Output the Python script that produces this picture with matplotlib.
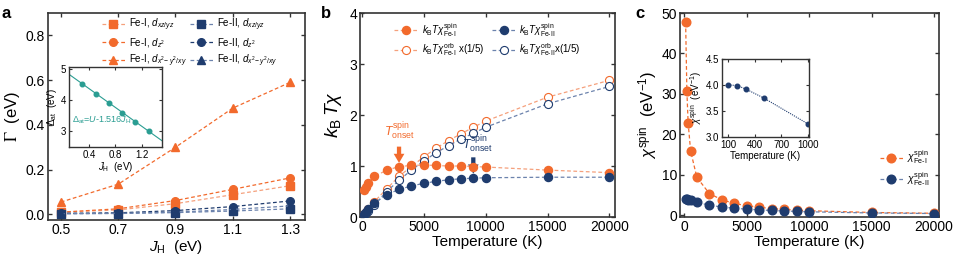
import numpy as np
import matplotlib
matplotlib.use("Agg")
import matplotlib.pyplot as plt

plt.rcParams['font.family'] = ['Liberation Sans', 'DejaVu Sans']
plt.rcParams['mathtext.fontset'] = 'custom'
plt.rcParams['mathtext.rm'] = 'Liberation Sans'
plt.rcParams['mathtext.it'] = 'Liberation Sans:italic'
plt.rcParams['mathtext.bf'] = 'Liberation Sans:bold'

ORANGE = '#f26a2c'
ORANGE_L = '#f5a07c'
NAVY = '#1f3c6e'
NAVY_L = '#6c83ad'
TEAL = '#2a9d92'
SPINE = '#333333'

# ---------- panel a data ----------
jh = [0.5, 0.7, 0.9, 1.1, 1.3]
fe1_xz = [0.010, 0.020, 0.048, 0.088, 0.128]
fe1_z2 = [0.010, 0.025, 0.062, 0.112, 0.163]
fe1_x2 = [0.055, 0.135, 0.300, 0.475, 0.590]
fe2_xz = [0.003, 0.004, 0.008, 0.015, 0.025]
fe2_z2 = [0.005, 0.007, 0.017, 0.035, 0.060]
fe2_x2 = [0.003, 0.005, 0.010, 0.022, 0.038]

inset_jh = [0.3, 0.5, 0.7, 0.9, 1.1, 1.3]
inset_dat = [4.51, 4.20, 3.90, 3.60, 3.30, 3.00]
fit_jh = [0.1, 1.5]
fit_dat = [4.82, 2.70]

# ---------- panel b data ----------
temp_b = [200, 300, 500, 1000, 2000, 3000, 4000, 5000, 6000, 7000, 8000, 9000, 10000, 15000, 20000]
b_fe1_spin = [0.52, 0.58, 0.67, 0.80, 0.915, 0.99, 1.01, 1.02, 1.01, 1.00, 1.00, 0.99, 0.98, 0.92, 0.87]
b_fe2_spin = [0.05, 0.09, 0.15, 0.27, 0.44, 0.54, 0.61, 0.66, 0.70, 0.73, 0.75, 0.76, 0.77, 0.78, 0.78]
b_fe1_orb = [0.06, 0.09, 0.15, 0.30, 0.55, 0.80, 0.99, 1.18, 1.35, 1.50, 1.63, 1.76, 1.88, 2.35, 2.68]
b_fe2_orb = [0.04, 0.07, 0.12, 0.23, 0.50, 0.72, 0.92, 1.10, 1.26, 1.40, 1.53, 1.64, 1.76, 2.22, 2.56]

# ---------- panel c data ----------
temp_c = [100, 200, 300, 500, 1000, 2000, 3000, 4000, 5000, 6000, 7000, 8000, 9000, 10000, 15000, 20000]
c_fe1 = [47.7, 30.7, 22.9, 15.9, 9.4, 5.4, 3.85, 2.95, 2.4, 2.0, 1.7, 1.5, 1.3, 1.15, 0.72, 0.52]
c_fe2 = [4.00, 3.99, 3.92, 3.75, 3.25, 2.52, 2.08, 1.78, 1.53, 1.35, 1.21, 1.09, 0.98, 0.89, 0.60, 0.46]
inset_t = [100, 200, 300, 500, 1000]
inset_fe2 = [4.00, 3.99, 3.92, 3.75, 3.25]

fig = plt.figure(figsize=(9.54, 2.57), dpi=100)


def style_axes(ax, fs=10, lw=1.2, tl=3):
    for s in ax.spines.values():
        s.set_linewidth(lw)
        s.set_color(SPINE)
    ax.tick_params(direction='in', top=True, right=True, labelsize=fs,
                   length=tl, width=lw * 0.8, color=SPINE, pad=2)


# ================= panel a =================
axa = fig.add_axes([0.0503, 0.144, 0.2694, 0.8054])
style_axes(axa)
ms = 5.5
lw = 0.9
dash = (0, (3, 2))
axa.plot(jh, fe1_xz, ls=dash, color=ORANGE_L, lw=lw, marker='s', ms=ms, mfc=ORANGE, mec=ORANGE,
         label=r'Fe-I, $d_{xz/yz}$')
axa.plot(jh, fe1_z2, ls=dash, color=ORANGE, lw=lw, marker='o', ms=ms, mfc=ORANGE, mec=ORANGE,
         label=r'Fe-I, $d_{z^2}$')
axa.plot(jh, fe1_x2, ls=dash, color=ORANGE, lw=lw, marker='^', ms=ms, mfc=ORANGE, mec=ORANGE,
         label=r'Fe-I, $d_{x^2\!-y^2/xy}$')
axa.plot(jh, fe2_xz, ls=dash, color=NAVY_L, lw=lw, marker='s', ms=ms, mfc=NAVY, mec=NAVY,
         label=r'Fe-II, $d_{xz/yz}$')
axa.plot(jh, fe2_z2, ls=dash, color=NAVY, lw=lw, marker='o', ms=ms, mfc=NAVY, mec=NAVY,
         label=r'Fe-II, $d_{z^2}$')
axa.plot(jh, fe2_x2, ls=dash, color=NAVY_L, lw=lw, marker='^', ms=ms, mfc=NAVY, mec=NAVY,
         label=r'Fe-II, $d_{x^2\!-y^2/xy}$')
axa.set_xlim(0.455, 1.352)
axa.set_ylim(-0.025, 0.9)
axa.set_xticks([0.5, 0.7, 0.9, 1.1, 1.3])
axa.set_xticklabels(['0.5', '0.7', '0.9', '1.1', '1.3'])
axa.set_yticks([0.0, 0.2, 0.4, 0.6, 0.8])
axa.set_yticklabels(['0.0', '0.2', '0.4', '0.6', '0.8'])
axa.set_xlabel(r'$J_\mathrm{H}$  (eV)', fontsize=11, labelpad=1)
axa.set_ylabel(r'$\Gamma$  (eV)', fontsize=12, labelpad=3, math_fontfamily='stix')
axa.legend(ncol=2, loc='upper center', bbox_to_anchor=(0.55, 1.01), fontsize=7, frameon=False,
           handlelength=2.4, handletextpad=0.4, columnspacing=0.3, labelspacing=0.3,
           borderaxespad=0.2)
fig.text(0.002, 0.93, 'a', fontsize=12, fontweight='bold')

# inset a
axai = fig.add_axes([0.0723, 0.428, 0.0975, 0.311])
style_axes(axai, fs=7, lw=1.0, tl=2)
axai.plot(fit_jh, fit_dat, color=TEAL, lw=0.8)
axai.plot(inset_jh, inset_dat, ls='none', marker='o', ms=3.3, color=TEAL)
axai.set_xlim(0.1, 1.5)
axai.set_ylim(2.5, 5.05)
axai.set_xticks([0.4, 0.8, 1.2])
axai.set_yticks([3, 4, 5])
axai.set_xlabel(r'$J_\mathrm{H}$  (eV)', fontsize=7, labelpad=0)
axai.set_ylabel(r'$\Delta_\mathrm{at}$  (eV)', fontsize=7, labelpad=1)
axai.text(0.14, 3.28, r'$\Delta_\mathrm{at}$=$U$-1.516$J_\mathrm{H}$', color=TEAL, fontsize=6.5)

# ================= panel b =================
axb = fig.add_axes([0.3774, 0.1556, 0.2673, 0.7938])
style_axes(axb)
msb = 5.8
axb.plot(temp_b, b_fe1_orb, ls=dash, color=ORANGE_L, lw=0.9, marker='o', ms=msb, mfc='white',
         mec=ORANGE, mew=0.8, label=r'$k_\mathrm{B}T\chi^\mathrm{orb}_\mathrm{Fe\text{-}I}$ x(1/5)', zorder=3)
axb.plot(temp_b, b_fe2_orb, ls=dash, color=NAVY_L, lw=0.9, marker='o', ms=msb, mfc='white',
         mec=NAVY, mew=0.8, label=r'$k_\mathrm{B}T\chi^\mathrm{orb}_\mathrm{Fe\text{-}II}$x(1/5)', zorder=3)
axb.plot(temp_b, b_fe1_spin, ls=dash, color=ORANGE_L, lw=0.9, marker='o', ms=msb, mfc=ORANGE,
         mec=ORANGE, label=r'$k_\mathrm{B}T\chi^\mathrm{spin}_\mathrm{Fe\text{-}I}$', zorder=4)
axb.plot(temp_b, b_fe2_spin, ls=dash, color=NAVY_L, lw=0.9, marker='o', ms=msb, mfc=NAVY,
         mec=NAVY, label=r'$k_\mathrm{B}T\chi^\mathrm{spin}_\mathrm{Fe\text{-}II}$', zorder=4)
axb.set_xlim(-150, 20450)
axb.set_ylim(0, 4)
axb.set_xticks([0, 5000, 10000, 15000, 20000])
axb.set_yticks([0, 1, 2, 3, 4])
axb.set_xlabel('Temperature (K)', fontsize=11, labelpad=1)
axb.set_ylabel(r'$k_\mathrm{B}\,T\chi$', fontsize=14, labelpad=4)
h, l = axb.get_legend_handles_labels()
order = [2, 0, 3, 1]
axb.legend([h[i] for i in order], [l[i] for i in order], ncol=2, loc='upper center',
           bbox_to_anchor=(0.5, 1.0), fontsize=7, frameon=False, handlelength=2.4,
           handletextpad=0.4, columnspacing=0.8, labelspacing=0.3, borderaxespad=0.4)
arrow_style = 'simple,head_width=0.7,head_length=0.6,tail_width=0.28'
axb.annotate('', xy=(3000, 1.06), xytext=(3000, 1.38),
             arrowprops=dict(arrowstyle=arrow_style, color=ORANGE, lw=0, shrinkA=0, shrinkB=0,
                             mutation_scale=11))
axb.text(3000, 1.47, r'$T^\mathrm{spin}_\mathrm{onset}$', color=ORANGE, fontsize=9, ha='center', va='bottom')
axb.annotate('', xy=(9000, 0.85), xytext=(9000, 1.17),
             arrowprops=dict(arrowstyle=arrow_style, color=NAVY, lw=0, shrinkA=0, shrinkB=0,
                             mutation_scale=11))
axb.text(9300, 1.22, r'$T^\mathrm{spin}_\mathrm{onset}$', color=NAVY, fontsize=9, ha='center', va='bottom')
fig.text(0.336, 0.93, 'b', fontsize=12, fontweight='bold')

# ================= panel c =================
axc = fig.add_axes([0.7128, 0.1556, 0.2715, 0.7938])
style_axes(axc)
msc = 6.2
axc.plot(temp_c, c_fe1, ls=dash, color=ORANGE, lw=0.9, marker='o', ms=msc, mfc=ORANGE, mec=ORANGE,
         label=r'$\chi^\mathrm{spin}_\mathrm{Fe\text{-}I}$', zorder=3)
axc.plot(temp_c, c_fe2, ls=dash, color=NAVY_L, lw=0.9, marker='o', ms=msc, mfc=NAVY, mec=NAVY,
         label=r'$\chi^\mathrm{spin}_\mathrm{Fe\text{-}II}$', zorder=4)
axc.set_xlim(-350, 20400)
axc.set_ylim(-0.4, 50)
axc.set_xticks([0, 5000, 10000, 15000, 20000])
axc.set_yticks([0, 10, 20, 30, 40, 50])
axc.set_xlabel('Temperature (K)', fontsize=11, labelpad=1)
axc.set_ylabel(r'$\chi^\mathrm{spin}$  (eV$^{-1}$)', fontsize=12, labelpad=2)
axc.legend(loc='center right', bbox_to_anchor=(1.0, 0.24), fontsize=7.5, frameon=False,
           handlelength=2.2, handletextpad=0.4, labelspacing=0.3)
fig.text(0.666, 0.93, 'c', fontsize=12, fontweight='bold')

# inset c
axci = fig.add_axes([0.7568, 0.467, 0.0912, 0.3035])
style_axes(axci, fs=7, lw=1.0, tl=2)
axci.plot(inset_t, inset_fe2, ls=(0, (1, 1)), color=NAVY, lw=0.8, marker='o', ms=3.3, mfc=NAVY, mec=NAVY)
axci.set_xlim(30, 1010)
axci.set_ylim(3.0, 4.5)
axci.set_xticks([100, 400, 700, 1000])
axci.set_yticks([3.0, 3.5, 4.0, 4.5])
axci.set_yticklabels(['3.0', '3.5', '4.0', '4.5'])
axci.set_xlabel('Temperature (K)', fontsize=7, labelpad=1)
axci.set_ylabel(r'$\chi^\mathrm{spin}$  (eV$^{-1}$)', fontsize=7, labelpad=1)

fig.savefig('out.png', dpi=100)
